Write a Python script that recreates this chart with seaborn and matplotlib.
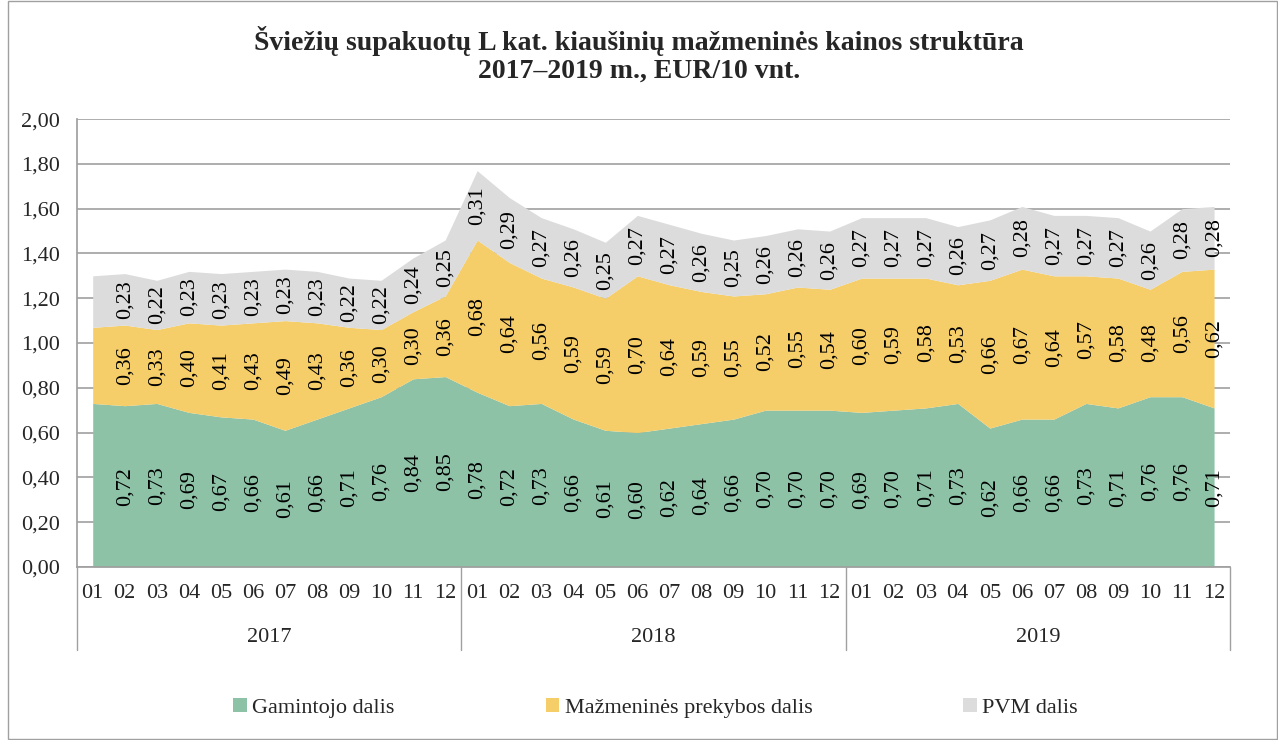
import numpy as np
import pandas as pd
import matplotlib
matplotlib.use("Agg")
import matplotlib.pyplot as plt
import seaborn as sns
from matplotlib.ticker import FuncFormatter
from matplotlib.patches import Rectangle

# Duomenys (EUR/10 vnt.)
years = ["2017", "2018", "2019"]
months = ["01", "02", "03", "04", "05", "06", "07", "08", "09", "10", "11", "12"]

gamintojo = [0.73, 0.72, 0.73, 0.69, 0.67, 0.66, 0.61, 0.66, 0.71, 0.76, 0.84, 0.85,
             0.78, 0.72, 0.73, 0.66, 0.61, 0.60, 0.62, 0.64, 0.66, 0.70, 0.70, 0.70,
             0.69, 0.70, 0.71, 0.73, 0.62, 0.66, 0.66, 0.73, 0.71, 0.76, 0.76, 0.71]
prekybos = [0.34, 0.36, 0.33, 0.40, 0.41, 0.43, 0.49, 0.43, 0.36, 0.30, 0.30, 0.36,
            0.68, 0.64, 0.56, 0.59, 0.59, 0.70, 0.64, 0.59, 0.55, 0.52, 0.55, 0.54,
            0.60, 0.59, 0.58, 0.53, 0.66, 0.67, 0.64, 0.57, 0.58, 0.48, 0.56, 0.62]
pvm = [0.23, 0.23, 0.22, 0.23, 0.23, 0.23, 0.23, 0.23, 0.22, 0.22, 0.24, 0.25,
       0.31, 0.29, 0.27, 0.26, 0.25, 0.27, 0.27, 0.26, 0.25, 0.26, 0.26, 0.26,
       0.27, 0.27, 0.27, 0.26, 0.27, 0.28, 0.27, 0.27, 0.27, 0.26, 0.28, 0.28]

series_names = ["Gamintojo dalis", "Mažmeninės prekybos dalis", "PVM dalis"]
colors = ["#8DC2A7", "#F5CD69", "#DCDCDC"]

df = pd.DataFrame({
    "metai": np.repeat(years, 12),
    "men": months * 3,
    series_names[0]: gamintojo,
    series_names[1]: prekybos,
    series_names[2]: pvm,
})
df["x"] = np.arange(len(df))

sns.set_theme(style="white")
plt.rcParams["font.family"] = ["Liberation Serif", "DejaVu Serif"]

fig = plt.figure(figsize=(12.78, 7.40), dpi=100)
ax = fig.add_axes([0.060, 0.234, 0.9025, 0.605])

bottom = np.zeros(len(df))
for name, col in zip(series_names, colors):
    vals = df[name].to_numpy()
    ax.fill_between(df["x"], bottom, bottom + vals, color=col, linewidth=0, label=name)
    # reikšmių etiketės (pirmasis taškas be etiketės)
    for i in range(1, len(df)):
        ax.text(df["x"][i], bottom[i] + vals[i] / 2, f"{vals[i]:.2f}".replace(".", ","),
                rotation=90, ha="center", va="center", fontsize=16, color="black")
    bottom = bottom + vals

ax.set_xlim(-0.5, len(df) - 0.5)
ax.set_ylim(0, 2.0)
ax.set_yticks(np.arange(0, 2.01, 0.2))
ax.yaxis.set_major_formatter(FuncFormatter(lambda v, p: f"{v:.2f}".replace(".", ",")))
ax.yaxis.grid(True, color="#a0a0a0", linewidth=1.2)
ax.set_axisbelow(True)
ax.tick_params(axis="y", labelsize=16, length=0, pad=12)

ax.set_xticks(df["x"])
ax.set_xticklabels(df["men"], fontsize=16)
ax.tick_params(axis="x", length=0, pad=12)

sns.despine(ax=ax, top=True, right=True)
ax.spines["left"].set_color("#a0a0a0")
ax.spines["bottom"].set_color("#a0a0a0")

# metų skiriamosios linijos ir pavadinimai
for k in range(len(years) + 1):
    ax.plot([k * 12 - 0.5, k * 12 - 0.5], [0, -0.185], transform=ax.get_xaxis_transform(),
            color="#a0a0a0", linewidth=1.0, clip_on=False)
for k, yr in enumerate(years):
    ax.text(k * 12 + 5.5, -0.157, yr, transform=ax.get_xaxis_transform(),
            ha="center", va="center", fontsize=16)

ax.set_xlabel("")
ax.set_ylabel("")

fig.suptitle("Šviežių supakuotų L kat. kiaušinių mažmeninės kainos struktūra\n2017–2019 m., EUR/10 vnt.",
             fontsize=20, fontweight="bold", y=0.965, linespacing=1.15)

fig.legend(loc="center", bbox_to_anchor=(0.513, 0.043), ncol=3, frameon=False, fontsize=16,
           handlelength=0.6, handleheight=0.6, handletextpad=0.25, columnspacing=6.8)

fig.patches.append(Rectangle((0.006, 0.001), 0.993, 0.998, transform=fig.transFigure,
                             fill=False, edgecolor="#a0a0a0", linewidth=1.0))

fig.savefig("out.png", dpi=100)
